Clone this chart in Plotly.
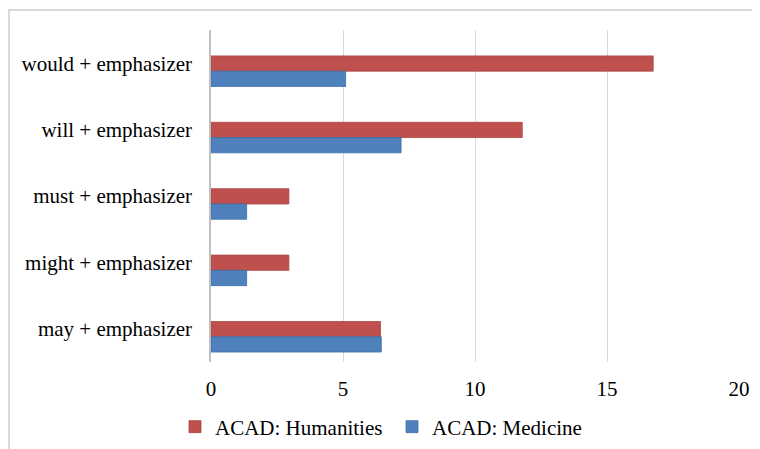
import plotly.graph_objects as go

categories = ["may + emphasizer", "might + emphasizer", "must + emphasizer",
              "will + emphasizer", "would + emphasizer"]
humanities = [6.42, 2.95, 2.95, 11.79, 16.75]
medicine = [6.45, 1.35, 1.35, 7.2, 5.1]
x_ticks = [0, 5, 10, 15, 20]

FONT = "Liberation Serif"
W, H = 752, 441  # page adds an 8px body margin

fig = go.Figure()
fig.add_trace(go.Bar(
    y=categories, x=humanities, orientation="h", name="ACAD: Humanities",
    marker=dict(color="#C0504D", line=dict(color="#A94442", width=0.8)),
    offset=-0.12, width=0.23,
))
fig.add_trace(go.Bar(
    y=categories, x=medicine, orientation="h", name="ACAD: Medicine",
    marker=dict(color="#4F81BD", line=dict(color="#3E6FA8", width=0.8)),
    offset=-0.35, width=0.23,
))

ml, mr, mt, mb = 203, 21, 22, 87
pw, ph = W - ml - mr, H - mt - mb

fig.update_layout(
    width=W, height=H,
    margin=dict(l=ml, r=mr, t=mt, b=mb, autoexpand=False),
    paper_bgcolor="white", plot_bgcolor="white",
    font=dict(family=FONT, size=21, color="#000000"),
    barmode="overlay",
    showlegend=True,
    legend=dict(
        orientation="h", xref="container", yref="container",
        x=167 / W, xanchor="left", y=1 - 419 / H, yanchor="middle",
        font=dict(family=FONT, size=21, color="#000000"),
        entrywidth=172, traceorder="normal",
        bgcolor="rgba(0,0,0,0)",
    ),
    xaxis=dict(
        range=[0, 20], tickvals=x_ticks, ticktext=[str(v) for v in x_ticks],
        showgrid=True, gridcolor="#D9D9D9", gridwidth=1,
        zeroline=False, showline=False, ticks="",
        ticklabelstandoff=12, fixedrange=True, automargin=False,
    ),
    yaxis=dict(
        categoryorder="array", categoryarray=categories,
        range=[-0.5, 4.5], showgrid=False, zeroline=False,
        showline=True, linecolor="#BFBFBF", linewidth=1.5,
        ticks="", ticklabelstandoff=13, fixedrange=True, automargin=False,
    ),
    shapes=[dict(
        type="rect", xref="paper", yref="paper",
        x0=-(ml - 1) / pw, x1=1.2, y0=-0.5, y1=1 + (mt - 2) / ph,
        line=dict(color="#D9D9D9", width=2), fillcolor="rgba(0,0,0,0)",
        layer="below",
    )],
)

fig.write_html("out.html")
